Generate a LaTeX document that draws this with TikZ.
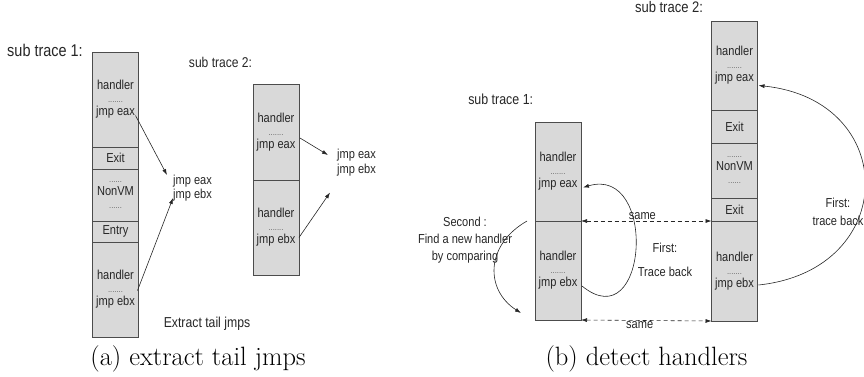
\documentclass[tikz,border=0pt]{standalone}
\usepackage{fontspec}
\usepackage{tikz}
\usetikzlibrary{arrows.meta}
\usetikzlibrary{positioning,calc}

\newfontfamily\diagsf[FakeStretch=0.85]{Liberation Sans}
\newcommand{\dotrow}[1]{{\fontsize{9}{9}\selectfont\color{black!60}#1}}

\tikzset{
  >={Latex[length=6pt,width=4pt]},
  seg/.style={draw=black!70, fill=black!15, line width=0.8pt, minimum width=46pt,
    inner sep=0pt, outer sep=0pt, align=center, text=black!85,
    font=\diagsf\fontsize{13}{13}\selectfont},
  lbl/.style={font=\diagsf\fontsize{13}{14.5}\selectfont, align=center, inner sep=1pt, text=black!85},
  tracelbl/.style={font=\diagsf\fontsize{#1}{#1}\selectfont, inner sep=0pt, text=black!85},
  captext/.style={font=\fontsize{26.5}{30}\selectfont, anchor=base, inner sep=0pt},
  jmplink/.style={->, line width=0.6pt, draw=black!85},
  samelink/.style={<->, line width=0.6pt, dash pattern=on 4pt off 3pt, draw=black!85},
}

\begin{document}
\begin{tikzpicture}[x=1pt, y=-1pt]
  \useasboundingbox (0,0) rectangle (864,376);

  % (a) left trace
  \node[tracelbl=17] (a1lbl) at (45,50) {sub trace 1:};
  \node[seg, minimum height=95pt, anchor=north] (a1top) at (115.5,52) {handler\\\dotrow{.......}\\jmp eax};
  \node[seg, minimum height=22pt, below=0pt of a1top] (a1exit) {Exit};
  \node[seg, minimum height=52pt, below=0pt of a1exit] (a1nonvm) {\dotrow{......}\\NonVM\\\dotrow{......}};
  \node[seg, minimum height=21pt, below=0pt of a1nonvm] (a1entry) {Entry};
  \node[seg, minimum height=95pt, below=0pt of a1entry] (a1bot) {handler\\\dotrow{.......}\\jmp ebx};

  \node[lbl, anchor=west, align=left] (jmps1) at (172,188) {jmp eax\\jmp ebx};
  \draw[jmplink] ($(a1top.east)+(-3,16)$) -- ($(jmps1.west)+(-5,-13)$);
  \draw[jmplink] ($(a1bot.east)+(-1,1)$) -- ($(jmps1.west)+(1,10)$);
  \node[lbl, font=\diagsf\fontsize{14.4}{14.4}\selectfont] (extract) at (207,324) {Extract tail jmps};

  % (a) right trace
  \node[tracelbl=14.2] (a2lbl) at (220.5,62) {sub trace 2:};
  \node[seg, minimum height=96pt, anchor=north] (a2top) at (276,84) {handler\\\dotrow{.......}\\jmp eax};
  \node[seg, minimum height=95pt, below=0pt of a2top] (a2bot) {handler\\\dotrow{.......}\\jmp ebx};

  \node[lbl, anchor=west, align=left] (jmps2) at (336,162.5) {jmp eax\\jmp ebx};
  \draw[jmplink] ($(a2top.east)+(1,6)$) -- ($(jmps2.west)+(-8,-7.5)$);
  \draw[jmplink] ($(a2bot.east)+(0,10)$) -- ($(jmps2.west)+(-6,30)$);

  \node[captext] (capa) at (198,365) {(a) extract tail jmps};

  % (b) left trace
  \node[tracelbl=14.6] (b1lbl) at (500.7,99) {sub trace 1:};
  \node[seg, minimum height=99pt, anchor=north] (b1top) at (558,122) {handler\\\dotrow{.......}\\jmp eax};
  \node[seg, minimum height=99pt, below=0pt of b1top] (b1bot) {handler\\\dotrow{.......}\\jmp ebx};

  % (b) right trace
  \node[tracelbl=15.3] (b2lbl) at (669,7) {sub trace 2:};
  \node[seg, minimum height=89pt, anchor=north] (b2top) at (734.5,21) {handler\\\dotrow{.......}\\jmp eax};
  \node[seg, minimum height=33pt, below=0pt of b2top] (b2exitA) {Exit};
  \node[seg, minimum height=55pt, below=0pt of b2exitA] (b2nonvm) {\dotrow{.......}\\NonVM\\\dotrow{......}};
  \node[seg, minimum height=23pt, below=0pt of b2nonvm] (b2exitB) {Exit};
  \node[seg, minimum height=100pt, below=0pt of b2exitB] (b2bot) {handler\\\dotrow{.......}\\jmp ebx};

  % matching boundaries
  \draw[samelink] (b1top.south east) -- node[lbl, above, pos=0.47] (same1) {same} (b2exitB.south west);
  \draw[samelink] (b1bot.south east) -- node[lbl, below, pos=0.45] (same2) {same} (b2bot.south west);

  % trace back inside sub trace 1
  \draw[jmplink] ($(b1bot.east)+(1,15.5)$) .. controls (648,340) and (658,165) .. ($(b1top.east)+(2,16)$);
  \node[lbl] (first1) at (665,260) {First:\\[9pt]Trace back};

  % trace back inside sub trace 2
  \draw[jmplink] ($(b2bot.east)+(1,14)$) .. controls (900,270) and (900,100) .. ($(b2top.east)+(1,20)$);
  \node[lbl] (first2) at (838,212) {First:\\[4pt]trace back};

  % look for a new handler
  \draw[jmplink] ($(b1top.south west)+(-8,0)$) .. controls (485,245) and (485,290) .. ($(b1bot.south west)+(-14,-7)$);
  \node[lbl, font=\diagsf\fontsize{13}{17}\selectfont] (second) at (465,240) {Second :\\Find a new handler\\by comparing};

  \node[captext] (capb) at (646.5,365) {(b) detect handlers};
\end{tikzpicture}
\end{document}
